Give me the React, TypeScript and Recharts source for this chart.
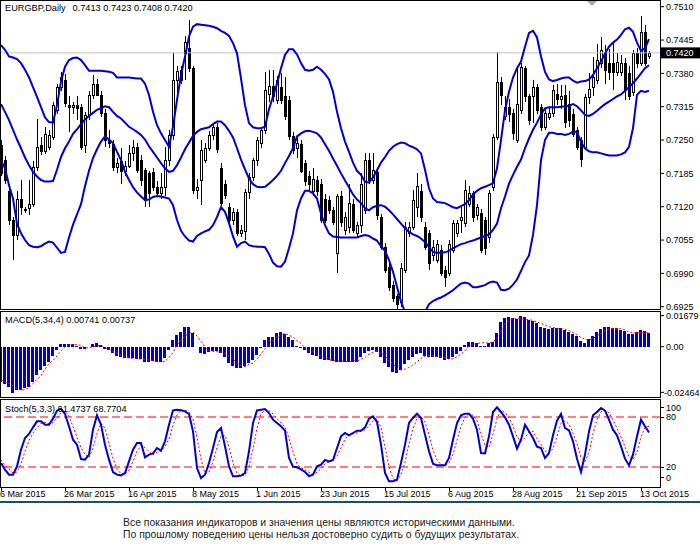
import React from 'react';
import { ComposedChart, Bar, Line, XAxis, YAxis, ReferenceLine } from 'recharts';

// ---------- data (prices in pips: 7420 = 0.7420) ----------
const OPEN = [7240,7211,7150,7094,7065,7136,7115,7117,7126,7198,7240,7228,7237,7256,7308,7354,7367,7318,7315,7318,7315,7240,7299,7338,7360,7338,7302,7250,7243,7198,7210,7190,7200,7225,7237,7211,7191,7185,7188,7159,7146,7159,7211,7260,7367,7386,7419,7430,7390,7152,7172,7212,7234,7260,7275,7195,7165,7120,7094,7110,7068,7072,7149,7178,7211,7245,7269,7340,7355,7328,7354,7335,7328,7257,7235,7243,7205,7180,7150,7172,7165,7136,7133,7113,7030,7140,7075,7081,7125,7068,7084,7113,7211,7172,7188,7100,7042,7003,6968,6945,6935,6997,7068,7081,7120,7150,7081,7068,7026,7016,7035,6997,6990,7035,7068,7094,7088,7126,7146,7104,7107,7094,7060,7159,7256,7364,7296,7315,7302,7250,7308,7390,7335,7335,7354,7315,7276,7295,7302,7340,7330,7338,7320,7300,7269,7250,7237,7334,7354,7367,7400,7419,7400,7400,7383,7383,7400,7380,7344,7419,7400,7461,7413];
const HIGH = [7250,7218,7165,7100,7150,7172,7120,7172,7210,7292,7255,7275,7270,7325,7360,7383,7378,7335,7325,7335,7320,7305,7345,7377,7370,7345,7310,7270,7250,7215,7235,7210,7240,7250,7245,7220,7195,7190,7195,7170,7185,7237,7270,7420,7395,7395,7452,7484,7395,7175,7250,7245,7268,7280,7283,7205,7172,7128,7118,7115,7085,7155,7185,7215,7255,7275,7383,7386,7386,7375,7380,7373,7335,7265,7255,7250,7212,7190,7195,7180,7175,7145,7140,7120,7145,7150,7110,7165,7135,7090,7185,7224,7224,7224,7195,7105,7050,7010,6975,6950,7010,7090,7090,7153,7185,7165,7090,7075,7055,7055,7045,7005,7055,7095,7095,7120,7172,7160,7150,7125,7115,7100,7152,7262,7422,7372,7335,7330,7310,7393,7400,7395,7340,7367,7360,7320,7310,7315,7357,7360,7357,7357,7345,7310,7275,7255,7340,7380,7412,7438,7450,7435,7428,7440,7420,7415,7410,7395,7425,7430,7492,7474,7423];
const LOW = [7180,7165,7085,7016,7055,7104,7108,7104,7120,7190,7220,7222,7230,7250,7300,7345,7315,7266,7300,7290,7230,7225,7290,7330,7335,7295,7237,7235,7190,7185,7165,7180,7195,7210,7185,7160,7120,7120,7150,7140,7136,7140,7200,7250,7330,7360,7367,7383,7145,7135,7123,7205,7228,7250,7225,7122,7135,7088,7085,7062,7060,7055,7136,7170,7200,7235,7262,7325,7325,7320,7320,7290,7250,7222,7215,7185,7160,7150,7140,7140,7088,7088,7105,7085,6990,7080,7065,7068,7068,7060,7068,7105,7165,7165,7095,7035,6990,6955,6935,6920,6925,6990,7060,7075,7100,7090,7035,6997,7015,7010,6985,6964,6985,7030,7060,7068,7081,7120,7090,7095,7030,7026,7050,7150,7250,7318,7290,7285,7250,7245,7300,7325,7280,7283,7300,7268,7270,7290,7295,7318,7310,7273,7275,7255,7230,7198,7230,7320,7335,7360,7390,7360,7367,7348,7375,7375,7328,7328,7335,7390,7395,7395,7408];
const CLOSE = [7185,7172,7094,7065,7136,7120,7113,7126,7198,7237,7228,7262,7260,7318,7354,7373,7322,7315,7318,7312,7237,7299,7338,7360,7338,7302,7250,7245,7198,7205,7190,7200,7225,7237,7191,7172,7133,7146,7159,7146,7159,7211,7260,7367,7385,7367,7442,7390,7152,7158,7230,7234,7260,7276,7232,7128,7143,7094,7110,7068,7075,7149,7178,7211,7250,7269,7348,7355,7335,7367,7328,7296,7257,7230,7245,7190,7170,7165,7175,7150,7094,7094,7113,7091,7140,7090,7100,7127,7075,7084,7165,7211,7172,7191,7104,7042,6997,6964,6942,6930,7000,7081,7081,7133,7160,7100,7042,7010,7042,7048,6990,6983,7048,7088,7088,7100,7153,7146,7100,7120,7035,7039,7146,7256,7364,7338,7315,7300,7263,7321,7393,7335,7289,7354,7308,7276,7302,7302,7347,7330,7336,7286,7290,7262,7237,7214,7334,7350,7373,7406,7425,7387,7383,7383,7403,7400,7348,7335,7419,7400,7461,7400,7420];

const BB_UPPER = [7435,7426,7413,7411,7408,7400,7387,7372,7353,7334,7314,7294,7285,7284,7318,7364,7393,7406,7410,7411,7406,7396,7385,7385,7385,7385,7384,7383,7381,7372,7372,7372,7372,7371,7370,7370,7360,7338,7305,7279,7263,7250,7237,7276,7328,7377,7413,7452,7471,7476,7475,7474,7473,7471,7468,7463,7459,7453,7439,7419,7370,7318,7283,7275,7273,7273,7276,7310,7335,7360,7390,7416,7427,7427,7417,7400,7387,7385,7387,7393,7387,7379,7368,7344,7305,7273,7247,7227,7206,7190,7182,7169,7167,7177,7191,7206,7217,7229,7237,7242,7245,7244,7239,7236,7232,7224,7192,7156,7136,7129,7128,7127,7123,7119,7117,7121,7125,7133,7144,7151,7156,7159,7162,7166,7195,7250,7308,7344,7372,7390,7403,7432,7459,7463,7450,7413,7383,7368,7365,7367,7370,7372,7372,7366,7362,7364,7365,7368,7377,7390,7403,7419,7432,7440,7446,7455,7466,7469,7461,7440,7424,7429,7447];
const BB_MIDDLE = [7320,7305,7289,7270,7251,7234,7216,7201,7188,7179,7172,7169,7169,7170,7192,7217,7234,7247,7262,7271,7281,7290,7297,7303,7309,7312,7316,7314,7305,7297,7292,7284,7276,7271,7266,7260,7251,7238,7227,7216,7205,7195,7188,7190,7201,7216,7232,7245,7258,7266,7271,7273,7275,7281,7286,7286,7279,7268,7255,7234,7212,7193,7175,7164,7159,7158,7159,7165,7172,7180,7190,7205,7219,7234,7257,7263,7267,7268,7266,7263,7255,7242,7229,7214,7200,7185,7171,7158,7144,7134,7127,7117,7113,7119,7122,7123,7120,7113,7105,7096,7087,7078,7071,7066,7063,7058,7051,7041,7032,7030,7030,7031,7034,7039,7043,7047,7049,7052,7054,7057,7060,7063,7066,7075,7087,7117,7140,7165,7182,7198,7212,7234,7253,7270,7284,7300,7312,7314,7314,7314,7315,7316,7317,7320,7316,7308,7299,7297,7301,7307,7314,7320,7325,7330,7335,7339,7346,7353,7361,7370,7380,7390,7396];
const BB_LOWER = [7210,7195,7162,7136,7087,7068,7055,7045,7042,7041,7043,7048,7052,7050,7040,7030,7032,7060,7085,7105,7125,7160,7190,7215,7232,7247,7257,7251,7244,7227,7211,7188,7172,7158,7148,7140,7133,7134,7139,7141,7140,7138,7136,7123,7094,7073,7062,7054,7052,7063,7068,7072,7075,7084,7100,7119,7110,7088,7062,7042,7049,7052,7045,7043,7042,7042,7041,7028,7011,7004,7003,7013,7039,7068,7113,7136,7151,7151,7146,7136,7107,7084,7068,7062,7061,7060,7060,7060,7060,7060,7063,7065,7063,7058,7054,7043,7034,7016,6993,6964,6935,6915,6905,6900,6900,6905,6915,6930,6936,6940,6943,6947,6952,6957,6964,6970,6972,6970,6963,6963,6965,6967,6972,6974,6972,6958,6957,6960,6968,6978,6995,7012,7025,7065,7123,7211,7250,7264,7264,7262,7262,7260,7262,7266,7266,7246,7234,7228,7226,7226,7224,7222,7220,7220,7220,7222,7226,7237,7273,7338,7346,7344,7346];

const MACD_HIST = [-0.0189,-0.0202,-0.0216,-0.0252,-0.0234,-0.0234,-0.0225,-0.0220,-0.0189,-0.0153,-0.0126,-0.0104,-0.0081,-0.0050,-0.0018,0.0013,0.0014,0.0014,0.0014,0.0004,-0.0014,-0.0014,0.0000,0.0013,0.0018,0.0009,-0.0014,-0.0018,-0.0032,-0.0050,-0.0054,-0.0059,-0.0063,-0.0063,-0.0067,-0.0067,-0.0081,-0.0081,-0.0077,-0.0081,-0.0081,-0.0063,-0.0018,0.0036,0.0063,0.0077,0.0108,0.0108,0.0072,-0.0004,-0.0036,-0.0040,-0.0027,-0.0022,-0.0022,-0.0032,-0.0054,-0.0086,-0.0104,-0.0117,-0.0117,-0.0104,-0.0090,-0.0072,-0.0045,-0.0009,0.0036,0.0050,0.0050,0.0072,0.0081,0.0067,0.0054,0.0036,0.0004,-0.0009,-0.0018,-0.0036,-0.0045,-0.0050,-0.0068,-0.0072,-0.0072,-0.0077,-0.0081,-0.0081,-0.0081,-0.0081,-0.0081,-0.0081,-0.0058,-0.0032,-0.0022,-0.0018,-0.0027,-0.0058,-0.0086,-0.0112,-0.0135,-0.0144,-0.0126,-0.0094,-0.0072,-0.0054,-0.0040,-0.0036,-0.0050,-0.0058,-0.0058,-0.0058,-0.0063,-0.0072,-0.0068,-0.0054,-0.0040,-0.0022,0.0009,0.0027,0.0027,0.0022,0.0004,0.0004,0.0022,0.0027,0.0076,0.0131,0.0153,0.0158,0.0153,0.0149,0.0166,0.0158,0.0144,0.0140,0.0130,0.0108,0.0103,0.0094,0.0099,0.0099,0.0099,0.0090,0.0081,0.0068,0.0058,0.0032,0.0022,0.0040,0.0058,0.0081,0.0094,0.0108,0.0104,0.0099,0.0099,0.0090,0.0086,0.0068,0.0068,0.0077,0.0090,0.0085,0.0074];
const MACD_SIGNAL = [-0.0180,-0.0189,-0.0198,-0.0212,-0.0227,-0.0234,-0.0232,-0.0220,-0.0200,-0.0176,-0.0158,-0.0122,-0.0090,-0.0074,-0.0050,-0.0022,0.0000,0.0009,0.0013,0.0011,0.0007,-0.0007,-0.0005,0.0000,0.0005,0.0007,-0.0004,-0.0014,-0.0025,-0.0036,-0.0047,-0.0056,-0.0061,-0.0063,-0.0065,-0.0067,-0.0070,-0.0072,-0.0077,-0.0081,-0.0081,-0.0079,-0.0058,-0.0031,0.0009,0.0036,0.0058,0.0072,0.0079,0.0058,0.0029,0.0000,-0.0022,-0.0025,-0.0027,-0.0029,-0.0036,-0.0050,-0.0068,-0.0086,-0.0101,-0.0108,-0.0094,-0.0090,-0.0068,-0.0040,-0.0011,0.0018,0.0036,0.0054,0.0065,0.0072,0.0061,0.0054,0.0032,0.0018,-0.0007,-0.0022,-0.0025,-0.0040,-0.0049,-0.0061,-0.0070,-0.0076,-0.0076,-0.0077,-0.0079,-0.0081,-0.0076,-0.0077,-0.0068,-0.0058,-0.0040,-0.0029,-0.0023,-0.0036,-0.0050,-0.0076,-0.0094,-0.0117,-0.0126,-0.0121,-0.0112,-0.0099,-0.0081,-0.0063,-0.0050,-0.0047,-0.0049,-0.0054,-0.0056,-0.0059,-0.0067,-0.0065,-0.0054,-0.0040,-0.0022,0.0004,0.0013,0.0018,0.0020,0.0022,0.0018,0.0027,0.0045,0.0081,0.0122,0.0144,0.0149,0.0153,0.0151,0.0148,0.0146,0.0142,0.0133,0.0126,0.0117,0.0108,0.0104,0.0099,0.0097,0.0094,0.0088,0.0077,0.0063,0.0050,0.0041,0.0036,0.0045,0.0058,0.0072,0.0086,0.0097,0.0099,0.0099,0.0097,0.0090,0.0079,0.0076,0.0076,0.0077,0.0077,0.0074];

const STOCH_MAIN = [24.8,16.8,10.8,10.8,20.8,40.8,54.8,59.6,67.6,74.8,74.8,70.8,70.8,78.0,87.6,90.0,83.6,68.8,52.8,46.8,29.6,28.8,34.8,64.8,82.0,70.8,46.8,28.8,14.0,10.8,10.0,12.8,26.8,40.8,48.8,48.8,31.6,34.8,36.4,42.8,39.6,50.8,70.8,88.0,88.8,88.0,86.8,83.6,62.8,18.8,6.8,10.8,24.8,42.8,62.0,66.8,44.8,20.8,8.8,8.8,9.6,12.8,38.8,72.8,88.0,88.8,89.6,84.8,76.8,72.8,68.8,63.6,30.8,20.4,19.6,17.2,14.0,9.2,10.8,20.8,22.8,28.4,26.8,28.4,42.8,56.8,60.8,58.0,60.8,63.6,63.6,67.6,78.0,80.8,74.0,46.8,12.8,2.8,2.8,4.8,24.8,46.8,72.8,78.8,84.0,78.8,58.8,38.8,24.0,22.0,22.0,22.0,30.8,52.8,72.8,82.0,84.0,84.0,78.0,64.8,36.8,36.4,56.8,86.0,91.6,86.0,79.6,70.8,56.8,42.0,52.8,70.8,62.8,54.8,44.4,42.8,30.8,36.8,58.0,75.6,83.6,66.8,64.0,50.8,30.0,14.0,34.8,62.8,82.0,86.0,90.8,87.6,76.8,64.8,58.0,44.8,30.0,22.0,34.8,56.8,76.8,68.8,61.47];
const STOCH_SIGNAL = [28.8,22.0,17.6,12.8,14.0,24.0,38.8,51.6,60.8,67.2,72.4,73.6,72.0,73.2,78.8,85.2,87.2,80.8,68.4,56.0,43.2,35.2,31.2,42.8,60.4,72.4,66.4,48.8,30.0,18.0,11.6,11.2,16.4,26.8,38.8,46.0,43.2,38.4,34.4,38.0,39.6,44.4,53.6,70.0,82.4,88.4,88.0,86.0,77.6,55.2,29.6,12.0,14.0,26.0,43.2,57.2,58.0,44.0,24.8,12.8,9.2,10.4,20.4,41.6,66.4,83.2,88.8,87.6,83.6,78.0,72.8,68.4,54.4,38.4,23.6,19.2,16.8,13.6,11.2,13.6,18.0,24.0,26.0,28.0,32.8,42.8,53.6,58.4,60.0,60.8,62.8,64.8,69.6,75.6,77.6,67.2,44.4,20.8,6.0,3.6,10.8,25.6,48.0,66.0,78.4,80.4,74.0,58.8,40.4,28.4,22.8,22.0,24.8,35.2,52.0,69.2,79.6,83.2,82.0,75.6,60.0,46.0,43.2,59.6,78.0,88.0,85.6,78.8,69.2,56.4,50.4,55.2,62.0,62.8,54.0,47.2,39.2,36.8,42.0,56.8,72.4,75.2,71.6,60.4,48.4,31.6,26.4,37.2,60.0,76.8,86.4,88.0,85.2,76.4,66.4,56.0,44.4,32.4,28.8,38.0,56.0,67.6,68.77];

const DATE_LABELS = ['6 Mar 2015','26 Mar 2015','16 Apr 2015','8 May 2015','1 Jun 2015','23 Jun 2015','15 Jul 2015','6 Aug 2015','28 Aug 2015','21 Sep 2015','13 Oct 2015'];
const DATE_BARS = [0,16,32,48,64,80,96,112,128,144,160];
const PRICE_TICKS = [0.7510,0.7445,0.7380,0.7315,0.7250,0.7185,0.7120,0.7055,0.6990,0.6925];
const MACD_TICKS = [0.01679,0,-0.02464];
const MACD_TICK_LABELS = ['0.01679','0.00','-0.02464'];
const STOCH_TICKS = [100,80,20,0];
const STOCH_LEVELS = [80,20];
const LAST_PRICE = 0.7420;

const rows = OPEN.map((o, i) => ({
  i,
  open: o / 1e4,
  high: HIGH[i] / 1e4,
  low: LOW[i] / 1e4,
  close: CLOSE[i] / 1e4,
  hl: [LOW[i] / 1e4, HIGH[i] / 1e4],
  up: BB_UPPER[i] / 1e4,
  mid: BB_MIDDLE[i] / 1e4,
  lo: BB_LOWER[i] / 1e4,
  macd: MACD_HIST[i],
  sig: MACD_SIGNAL[i],
  k: STOCH_MAIN[i],
  d: STOCH_SIGNAL[i],
}));

// ---------- styling ----------
const FONT = '"Liberation Sans", Arial, sans-serif';
const FS = 9;
const BLUE = '#0000cd';
const RED = '#ff0000';
const X_DOMAIN: [number, number] = [-0.25, 164.75];

const Candle = (props: any) => {
  const { x, width, payload } = props;
  let { y, height } = props;
  if (x == null || y == null || !payload) return null;
  if (height < 0) { y = y + height; height = -height; }
  const { open, close, high, low } = payload;
  const cx = Math.round(x + width / 2) + 0.5;
  const span = high - low;
  const toY = (p: number) => (span > 0 ? y + ((high - p) / span) * height : y);
  const yo = toY(open);
  const yc = toY(close);
  const top = Math.round(Math.min(yo, yc)) + 0.5;
  const bot = Math.round(Math.max(yo, yc)) + 0.5;
  const bull = close >= open;
  return (
    <g shapeRendering="crispEdges">
      <line x1={cx} x2={cx} y1={y} y2={y + height} stroke="#000" strokeWidth={1} />
      {bot - top >= 1 ? (
        <rect x={cx - 1} y={top} width={2} height={bot - top} fill={bull ? '#fff' : '#000'} stroke="#000" strokeWidth={1} />
      ) : (
        <line x1={cx - 1.5} x2={cx + 1.5} y1={top} y2={top} stroke="#000" strokeWidth={1} />
      )}
    </g>
  );
};

const HistBar = (props: any) => {
  let { x, y, width, height } = props;
  if (x == null || y == null) return null;
  if (height < 0) { y = y + height; height = -height; }
  return <rect x={x} y={y} width={width} height={Math.max(height, 0.5)} fill={BLUE} shapeRendering="crispEdges" />;
};

const PriceTag = (props: any) => {
  const vb = props.viewBox || {};
  const x = (vb.x || 0) + (vb.width || 0) + 1;
  const y = vb.y || 0;
  return (
    <g>
      <rect x={x} y={y - 5.5} width={40} height={11} fill="#000" />
      <text x={x + 5} y={y} dy="0.36em" fill="#fff" fontSize={FS} fontFamily={FONT}>{LAST_PRICE.toFixed(4)}</text>
    </g>
  );
};

const MacdTick = (props: any) => {
  const { x, y, payload } = props;
  const idx = MACD_TICKS.indexOf(payload.value);
  const txt = idx >= 0 ? MACD_TICK_LABELS[idx] : String(payload.value);
  const shift = txt.startsWith('-') ? -2 : 0;
  return (
    <text x={x + shift} y={y} dy="0.36em" fill="#000" fontSize={FS} fontFamily={FONT} textAnchor="start">{txt}</text>
  );
};

const StochTick = (props: any) => {
  const { x, y, payload } = props;
  const v = payload.value;
  const dy = v === 100 ? 7 : v === 0 ? -6 : 0;
  return (
    <g>
      <line x1={x - 6} x2={x - 2} y1={y + dy} y2={y + dy} stroke="#000" shapeRendering="crispEdges" />
      <text x={x} y={y + dy} dy="0.36em" fill="#000" fontSize={FS} fontFamily={FONT} textAnchor="start">{String(v)}</text>
    </g>
  );
};

const DateTick = (props: any) => {
  const { x, y, payload } = props;
  const idx = DATE_BARS.indexOf(payload.value);
  const tx = Math.round(x) + 0.5;
  return (
    <g>
      <line x1={tx} x2={tx} y1={y} y2={y + 4} stroke="#000" shapeRendering="crispEdges" />
      <text x={x - 1} y={y + 7} dy="0.36em" fill="#000" fontSize={FS} fontFamily={FONT} textAnchor="start">{idx >= 0 ? DATE_LABELS[idx] : ''}</text>
    </g>
  );
};

const axisTick = { fill: '#000', fontSize: FS, fontFamily: FONT };

const frame = (top: number, height: number): React.CSSProperties => ({
  position: 'absolute', left: 0, top, width: 661, height, border: '1px solid #000', boxSizing: 'border-box', pointerEvents: 'none',
});

const label = (top: number): React.CSSProperties => ({
  position: 'absolute', left: 5, top, fontSize: 9.2, lineHeight: '10px', fontFamily: FONT, color: '#000', whiteSpace: 'pre', pointerEvents: 'none',
});

export default function App() {
  return (
    <div style={{ position: 'absolute', left: 0, top: 0, width: 700, height: 552, background: '#fff', overflow: 'hidden', fontFamily: FONT }}>
      {/* main price panel (plot area 0..310, extra room below for the last axis label) */}
      <div style={{ position: 'absolute', left: 0, top: 0 }}>
        <ComposedChart width={700} height={320} data={rows} margin={{ top: 0, right: 0, bottom: 10, left: 0 }}>
          <XAxis dataKey="i" type="number" domain={X_DOMAIN} hide allowDataOverflow />
          <YAxis orientation="right" width={40} type="number" domain={[0.69186, 0.75231]} allowDataOverflow
            ticks={PRICE_TICKS} interval={0} tickFormatter={(v: number) => v.toFixed(4)} tick={axisTick}
            tickLine={{ stroke: '#000' }} tickSize={4} tickMargin={2} axisLine={false} />
          <ReferenceLine y={LAST_PRICE} stroke="#c0c0c0" strokeWidth={1} label={<PriceTag />} />
          <Bar dataKey="hl" barSize={3} shape={Candle} isAnimationActive={false} />
          <Line dataKey="up" stroke={BLUE} strokeWidth={2} dot={false} activeDot={false} isAnimationActive={false} />
          <Line dataKey="mid" stroke={BLUE} strokeWidth={2} dot={false} activeDot={false} isAnimationActive={false} />
          <Line dataKey="lo" stroke={BLUE} strokeWidth={2} dot={false} activeDot={false} isAnimationActive={false} />
        </ComposedChart>
      </div>

      {/* MACD panel */}
      <div style={{ position: 'absolute', left: 0, top: 311 }}>
        <ComposedChart width={700} height={87} data={rows} margin={{ top: 0, right: 0, bottom: 0, left: 0 }}>
          <XAxis dataKey="i" type="number" domain={X_DOMAIN} hide allowDataOverflow />
          <YAxis orientation="right" width={40} type="number" domain={[-0.0277, 0.0193]} allowDataOverflow
            ticks={MACD_TICKS} interval={0} tick={<MacdTick />}
            tickLine={{ stroke: '#000' }} tickSize={4} tickMargin={2} axisLine={false} />
          <Bar dataKey="macd" barSize={3} shape={HistBar} isAnimationActive={false} />
          <Line dataKey="sig" stroke={RED} strokeWidth={1} strokeDasharray="2 2" dot={false} activeDot={false} isAnimationActive={false} />
        </ComposedChart>
      </div>

      {/* Stochastic panel */}
      <div style={{ position: 'absolute', left: 0, top: 399 }}>
        <ComposedChart width={700} height={104} data={rows} margin={{ top: 0, right: 0, bottom: 0, left: 0 }}>
          <XAxis dataKey="i" type="number" domain={X_DOMAIN} allowDataOverflow ticks={DATE_BARS} interval={0}
            height={16} tick={<DateTick />} tickLine={false} axisLine={false} tickSize={0} tickMargin={0} />
          <YAxis orientation="right" width={40} type="number" domain={[-4, 101.6]} allowDataOverflow
            ticks={STOCH_TICKS} interval={0} tick={<StochTick />} tickLine={false} tickSize={4} tickMargin={2} axisLine={false} />
          {STOCH_LEVELS.map((lv) => (
            <ReferenceLine key={lv} y={lv} stroke={RED} strokeWidth={1} strokeDasharray="8 4" />
          ))}
          <Line dataKey="d" stroke={RED} strokeWidth={1} strokeDasharray="2 2" dot={false} activeDot={false} isAnimationActive={false} />
          <Line dataKey="k" stroke={BLUE} strokeWidth={2} dot={false} activeDot={false} isAnimationActive={false} />
        </ComposedChart>
      </div>

      {/* panel frames */}
      <div style={frame(0, 310)} />
      <div style={frame(311, 87)} />
      <div style={frame(399, 89)} />

      {/* chart-shift marker */}
      <svg style={{ position: 'absolute', left: 587, top: 0 }} width={12} height={8}>
        <polygon points="0,1 10,1 5,6" fill="#a8a8a8" />
      </svg>

      {/* panel captions */}
      <div style={label(3)}>EURGBP,Daily<span style={{ marginLeft: 7 }}>0.7413 0.7423 0.7408 0.7420</span></div>
      <div style={label(315)}>MACD(5,34,4) 0.00741 0.00737</div>
      <div style={label(404)}>Stoch(5,3,3) 61.4737 68.7704</div>

      {/* separator & disclaimer */}
      <div style={{ position: 'absolute', left: 0, top: 501, width: 700, height: 2, background: '#1f4e5f' }} />
      <div style={{ position: 'absolute', left: 123, top: 517, fontSize: 10.4, lineHeight: '12px', fontFamily: FONT, color: '#222', whiteSpace: 'pre' }}>
        {'Все показания индикаторов и значения цены являются историческими данными.\nПо прошлому поведению цены нельзя достоверно судить о будущих результатах.'}
      </div>
    </div>
  );
}
